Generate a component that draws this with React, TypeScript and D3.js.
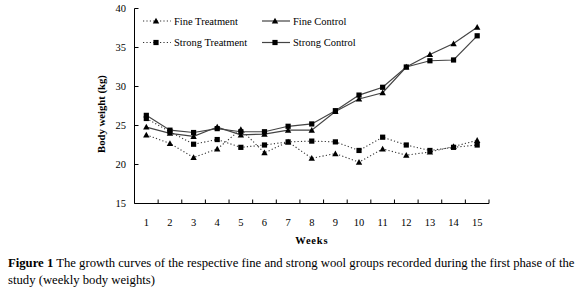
import React from "react";
import * as d3 from "d3";

const weeks = [1, 2, 3, 4, 5, 6, 7, 8, 9, 10, 11, 12, 13, 14, 15];
const fineTreatment = [23.8, 22.7, 20.9, 22.0, 24.5, 21.5, 22.9, 20.8, 21.4, 20.3, 22.0, 21.2, 21.6, 22.3, 23.1];
const fineControl = [24.8, 24.0, 23.6, 24.8, 23.8, 23.9, 24.4, 24.4, 26.8, 28.4, 29.2, 32.5, 34.1, 35.5, 37.6];
const strongTreatment = [25.9, 24.2, 22.6, 23.2, 22.2, 22.5, 22.9, 23.0, 22.9, 21.8, 23.5, 22.5, 21.8, 22.2, 22.5];
const strongControl = [26.3, 24.4, 24.1, 24.6, 24.2, 24.2, 24.9, 25.2, 26.9, 28.9, 29.9, 32.5, 33.3, 33.4, 36.5];
const yTicks = [15, 20, 25, 30, 35, 40];

const series = [
  { name: "Fine Treatment", values: fineTreatment, marker: "tri", dotted: true },
  { name: "Fine Control", values: fineControl, marker: "tri", dotted: false },
  { name: "Strong Treatment", values: strongTreatment, marker: "sq", dotted: true },
  { name: "Strong Control", values: strongControl, marker: "sq", dotted: false },
];

const FONT = "Liberation Serif, Times New Roman, serif";

function Marker({ type, cx, cy }: { type: string; cx: number; cy: number }) {
  if (type === "sq") {
    return <rect x={cx - 2.6} y={cy - 2.6} width={5.2} height={5.2} fill="#000" />;
  }
  const s = 3.2;
  return (
    <path
      d={`M${cx},${cy - s} L${cx + s},${cy + s * 0.8} L${cx - s},${cy + s * 0.8} Z`}
      fill="#000"
    />
  );
}

export default function App() {
  const left = 134.5;
  const right = 489;
  const top = 8.5;
  const bottom = 203.5;
  const x = d3.scaleBand<number>().domain(weeks).range([left, right]).padding(0);
  const y = d3.scaleLinear().domain([15, 40]).range([bottom, top]);
  const cx = (w: number) => (x(w) as number) + x.bandwidth() / 2;
  const line = d3
    .line<number>()
    .x((_, i) => cx(weeks[i]))
    .y((v) => y(v));

  const legendItems = [
    { s: series[0], lx: 143, ly: 21 },
    { s: series[2], lx: 143, ly: 42.5 },
    { s: series[1], lx: 262, ly: 21 },
    { s: series[3], lx: 262, ly: 42.5 },
  ];

  return (
    <svg width={580} height={290} style={{ display: "block", position: "absolute", left: 0, top: 0 }}>
      <rect width={580} height={290} fill="#fff" />
      {/* axes */}
      <line x1={left} x2={left} y1={top} y2={bottom} stroke="#000" strokeWidth={1} />
      <line x1={left} x2={right} y1={bottom} y2={bottom} stroke="#000" strokeWidth={1} />
      {yTicks.map((t) => (
        <g key={t}>
          <line x1={left} x2={left + 4} y1={y(t)} y2={y(t)} stroke="#000" />
          <text x={126} y={y(t) + 3.6} textAnchor="end" fontFamily={FONT} fontSize={10.5}>
            {t}
          </text>
        </g>
      ))}
      {weeks.map((w) => (
        <g key={w}>
          <line
            x1={(x(w) as number) + x.bandwidth()}
            x2={(x(w) as number) + x.bandwidth()}
            y1={bottom}
            y2={bottom - 4}
            stroke="#000"
          />
          <text x={cx(w)} y={225.5} textAnchor="middle" fontFamily={FONT} fontSize={10.5}>
            {w}
          </text>
        </g>
      ))}
      <text
        x={(left + right) / 2}
        y={244}
        textAnchor="middle"
        fontFamily={FONT}
        fontSize={10.5}
        fontWeight="bold"
        letterSpacing={0.8}
      >
        Weeks
      </text>
      <text
        transform={`translate(105,114) rotate(-90)`}
        textAnchor="middle"
        fontFamily={FONT}
        fontSize={10.7}
        fontWeight="bold"
      >
        Body weight (kg)
      </text>
      {/* series */}
      {series.map((s) => (
        <g key={s.name}>
          <path
            d={line(s.values) || ""}
            fill="none"
            stroke={s.dotted ? "#333" : "#444"}
            strokeWidth={s.dotted ? 1.1 : 1.2}
            strokeDasharray={s.dotted ? "1.2,2.2" : undefined}
          />
          {s.values.map((v, i) => (
            <Marker key={i} type={s.marker} cx={cx(weeks[i])} cy={y(v)} />
          ))}
        </g>
      ))}
      {/* legend */}
      {legendItems.map(({ s, lx, ly }) => (
        <g key={s.name}>
          <line
            x1={lx}
            x2={lx + 28}
            y1={ly}
            y2={ly}
            stroke={s.dotted ? "#333" : "#444"}
            strokeWidth={s.dotted ? 1.1 : 1.2}
            strokeDasharray={s.dotted ? "1.2,2.2" : undefined}
          />
          <Marker type={s.marker} cx={lx + 13} cy={ly} />
          <text x={lx + 31} y={ly + 3.6} fontFamily={FONT} fontSize={10.5}>
            {s.name}
          </text>
        </g>
      ))}
      {/* caption */}
      <text x={8} y={267} fontFamily={FONT} fontSize={12.7}>
        <tspan fontWeight="bold">Figure 1</tspan>
        <tspan> The growth curves of the respective fine and strong wool groups recorded during the first phase of the</tspan>
      </text>
      <text x={8} y={283.5} fontFamily={FONT} fontSize={12.7}>
        study (weekly body weights)
      </text>
    </svg>
  );
}
